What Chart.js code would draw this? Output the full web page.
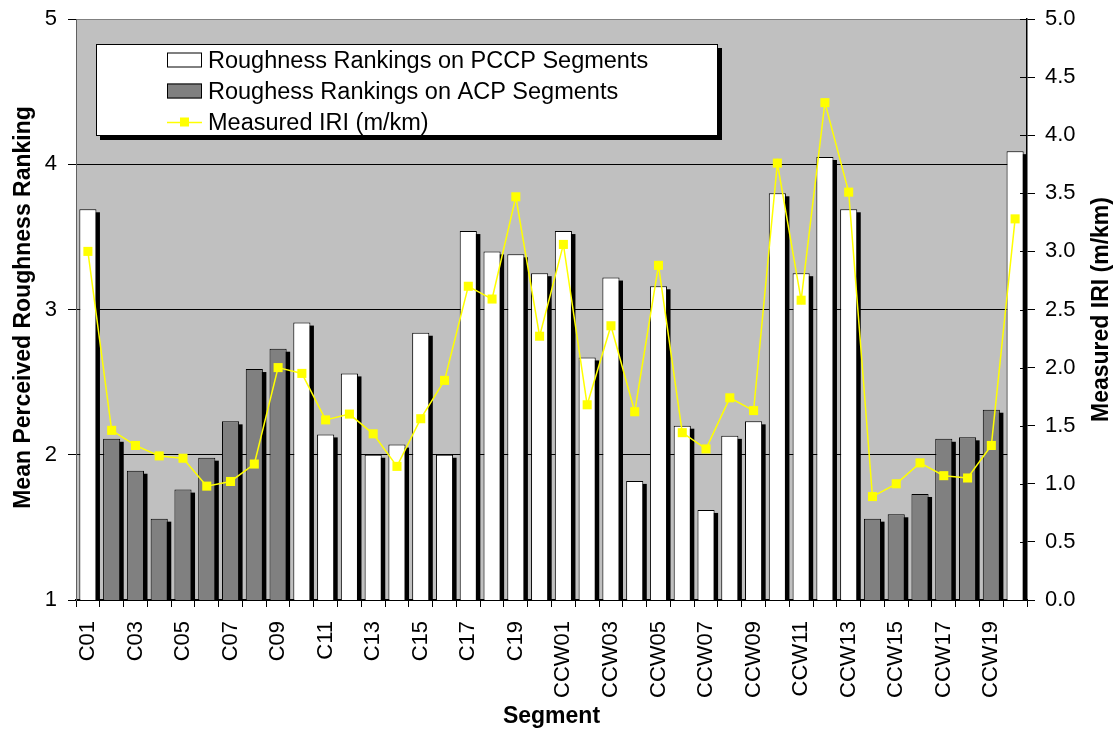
<!DOCTYPE html>
<html><head><meta charset="utf-8">
<script src="https://cdn.jsdelivr.net/npm/chart.js@4"></script>
<style>html,body{margin:0;padding:0;background:#fff}#wrap{width:1118px;height:736px}</style>
</head><body><div id="wrap"><canvas id="c" width="1118" height="736"></canvas></div>
<script>
const categories = ['C01','C02','C03','C04','C05','C06','C07','C08','C09','C10',
  'C11','C12','C13','C14','C15','C16','C17','C18','C19','C20',
  'CCW01','CCW02','CCW03','CCW04','CCW05','CCW06','CCW07','CCW08','CCW09','CCW10',
  'CCW11','CCW12','CCW13','CCW14','CCW15','CCW16','CCW17','CCW18','CCW19','CCW20'];
const pccpRanking = [3.69,null,null,null,null,null,null,null,null,2.91,
  2.14,2.56,2.00,2.07,2.84,2.00,3.54,3.40,3.38,3.25,
  3.54,2.67,3.22,1.82,3.16,2.20,1.62,2.13,2.23,3.80,
  3.25,4.05,3.69,null,null,null,null,null,null,4.09];
const acpRanking = [null,2.11,1.89,1.56,1.76,1.98,2.23,2.59,2.73,null,
  null,null,null,null,null,null,null,null,null,null,
  null,null,null,null,null,null,null,null,null,null,
  null,null,null,1.56,1.59,1.73,2.11,2.12,2.31,null];
const measuredIRI = [3.00,1.46,1.33,1.24,1.22,0.98,1.02,1.17,2.00,1.95,
  1.55,1.60,1.43,1.15,1.56,1.89,2.70,2.59,3.47,2.27,
  3.06,1.68,2.36,1.62,2.88,1.44,1.30,1.74,1.63,3.76,
  2.58,4.28,3.51,0.89,1.00,1.18,1.07,1.05,1.33,3.28];
const seriesNames = ['Roughness Rankings on PCCP Segments','Roughess Rankings on ACP Segments','Measured IRI (m/km)'];
const leftTitle = 'Mean Perceived Roughness Ranking';
const rightTitle = 'Measured IRI (m/km)';
const xTitle = 'Segment';

const FONT = "'Liberation Sans', Arial, sans-serif";

const bgPlugin = {
  id: 'bg',
  beforeDraw(chart) {
    const {ctx, chartArea: a} = chart;
    ctx.save();
    ctx.fillStyle = '#fff';
    ctx.fillRect(0, 0, chart.width, chart.height);
    ctx.fillStyle = '#C0C0C0';
    ctx.fillRect(a.left, a.top, a.right - a.left, a.bottom - a.top);
    ctx.restore();
  }
};

const shadowPlugin = {
  id: 'shadow',
  beforeDatasetsDraw(chart) {
    const {ctx, chartArea: a} = chart;
    ctx.save();
    ctx.beginPath();
    ctx.rect(a.left, a.top, a.right - a.left, a.bottom - a.top);
    ctx.clip();
    ctx.fillStyle = '#000';
    chart.data.datasets.forEach((ds, di) => {
      const meta = chart.getDatasetMeta(di);
      if (meta.type !== 'bar') return;
      meta.data.forEach((el, i) => {
        if (ds.data[i] == null) return;
        const p = el.getProps(['x', 'y', 'base', 'width'], true);
        ctx.fillRect(p.x - p.width / 2 + 3.5, p.y + 3, p.width, p.base - p.y);
      });
    });
    ctx.restore();
  }
};

const decorPlugin = {
  id: 'decor',
  afterDraw(chart) {
    const {ctx, chartArea: a} = chart;
    ctx.save();
    const yR = chart.scales.yR;
    ctx.strokeStyle = '#000';
    ctx.lineWidth = 1;
    yR.ticks.forEach(t => {
      const y = Math.round(yR.getPixelForValue(t.value)) + 0.5;
      ctx.beginPath();
      ctx.moveTo(a.right - 7, y);
      ctx.lineTo(a.right, y);
      ctx.stroke();
    });
    const L = {x: 96, y: 44, w: 622, h: 92};
    ctx.fillStyle = '#000';
    ctx.fillRect(L.x + 4, L.y + 4, L.w, L.h);
    ctx.fillStyle = '#fff';
    ctx.fillRect(L.x, L.y, L.w, L.h);
    ctx.strokeStyle = '#000';
    ctx.strokeRect(L.x + 0.5, L.y + 0.5, L.w - 1, L.h - 1);
    const rows = [60, 91, 122];
    const dsOrder = [1, 2, 0];
    ctx.font = '23.5px ' + FONT;
    ctx.textAlign = 'left';
    ctx.textBaseline = 'alphabetic';
    dsOrder.forEach((di, r) => {
      const ds = chart.data.datasets[di];
      const cy = rows[r];
      if (ds.type === 'line') {
        ctx.strokeStyle = ds.borderColor;
        ctx.lineWidth = 1.5;
        ctx.beginPath();
        ctx.moveTo(167, cy + 0.5);
        ctx.lineTo(202, cy + 0.5);
        ctx.stroke();
        ctx.fillStyle = ds.backgroundColor;
        ctx.fillRect(180, cy - 4.5, 9, 9);
      } else {
        ctx.fillStyle = ds.backgroundColor;
        ctx.fillRect(167, cy - 7.5, 35, 15);
        ctx.strokeStyle = '#000';
        ctx.lineWidth = 1;
        ctx.strokeRect(167.5, cy - 7, 34, 14);
      }
      ctx.fillStyle = '#000';
      ctx.fillText(ds.label, 208, cy + 8);
    });
    ctx.font = 'bold 23px ' + FONT;
    ctx.fillStyle = '#000';
    ctx.textAlign = 'center';
    ctx.textBaseline = 'alphabetic';
    ctx.fillText(xTitle, (a.left + a.right) / 2, 723);
    ctx.save();
    ctx.translate(30, (a.top + a.bottom) / 2 - 2);
    ctx.rotate(-Math.PI / 2);
    ctx.fillText(leftTitle, 0, 0);
    ctx.restore();
    ctx.save();
    ctx.translate(1108, (a.top + a.bottom) / 2);
    ctx.rotate(-Math.PI / 2);
    ctx.fillText(rightTitle, 0, 0);
    ctx.restore();
    ctx.restore();
  }
};

const fitY = w => s => { s.width = w; s.paddingTop = 0; s.paddingBottom = 0; };

new Chart(document.getElementById('c'), {
  type: 'bar',
  data: {
    labels: categories,
    datasets: [
      {type: 'line', label: seriesNames[2], data: measuredIRI, yAxisID: 'yR',
       borderColor: '#FFFF00', backgroundColor: '#FFFF00', borderWidth: 1.5,
       pointStyle: 'rect', pointRadius: 6.4, pointBorderWidth: 0, pointBackgroundColor: '#FFFF00',
       tension: 0, order: 0, clip: false},
      {label: seriesNames[0], data: pccpRanking, yAxisID: 'yL', backgroundColor: '#FFFFFF',
       borderColor: '#000', borderWidth: 1, grouped: false, barPercentage: 0.72, categoryPercentage: 1, order: 1},
      {label: seriesNames[1], data: acpRanking, yAxisID: 'yL', backgroundColor: '#808080',
       borderColor: '#000', borderWidth: 1, grouped: false, barPercentage: 0.72, categoryPercentage: 1, order: 2}
    ]
  },
  options: {
    responsive: false, animation: false, devicePixelRatio: 1,
    layout: {padding: {top: 19, left: 0, right: 0, bottom: 0}},
    plugins: {legend: {display: false}, tooltip: {enabled: false}},
    scales: {
      x: {
        grid: {offset: true, drawOnChartArea: false, tickLength: 7, color: '#000'},
        border: {color: '#000', width: 1.5},
        ticks: {autoSkip: false, minRotation: 90, maxRotation: 90, padding: 14, color: '#000',
          font: {family: FONT, size: 22},
          callback: (v, i) => (i % 2 === 0 ? categories[i] : '')},
        afterFit: s => { s.height = 136; s.paddingLeft = 0; s.paddingRight = 0; }
      },
      yL: {
        position: 'left', min: 1, max: 5,
        ticks: {stepSize: 1, padding: 11, color: '#000', font: {family: FONT, size: 22}},
        grid: {color: c => (c.tick && c.tick.value === 5 ? '#808080' : '#000'), tickColor: '#000', tickLength: 8, lineWidth: 1},
        border: {color: '#606060', width: 1},
        afterFit: fitY(76)
      },
      yR: {
        position: 'right', min: 0, max: 5,
        ticks: {stepSize: 0.5, padding: 10, color: '#000', font: {family: FONT, size: 22},
          callback: v => Number(v).toFixed(1)},
        grid: {drawOnChartArea: false, tickLength: 8, tickColor: '#000'},
        border: {color: '#000', width: 1.5},
        afterFit: fitY(91)
      }
    }
  },
  plugins: [bgPlugin, shadowPlugin, decorPlugin]
});
</script>
</body></html>
